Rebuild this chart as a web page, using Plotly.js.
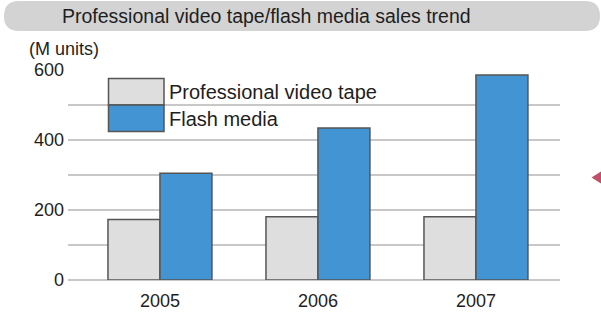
<!DOCTYPE html>
<html>
<head>
<meta charset="utf-8">
<script src="https://cdn.plot.ly/plotly-3.0.1.min.js"></script>
<style>
  html, body { margin: 0; padding: 0; background: #ffffff; }
  #chart { width: 601px; height: 312px; }
</style>
</head>
<body>
<div id="chart"></div>
<script>
const categories = ['2005', '2006', '2007'];
const tapeValues = [173, 181, 181];
const flashValues = [305, 434, 586];
const seriesNames = ['Professional video tape', 'Flash media'];
const yTickVals = [0, 200, 400, 600];
const chartTitle = 'Professional video tape/flash media sales trend';
const unitLabel = '(M units)';

const W = 601, H = 312;
const M = {l: 68, r: 41, t: 70, b: 32};
const PW = W - M.l - M.r, PH = H - M.t - M.b;
const px = x => (x - M.l) / PW;
const py = y => (H - M.b - y) / PH;

const FONT = 'Liberation Sans, Arial, Helvetica, sans-serif';
const TXT = '#1e1e1e';
const tapeColor = '#dedede';
const flashColor = '#4394d3';
const edge = {color: '#555555', width: 1.5};

const traces = [
  {type: 'bar', name: seriesNames[0], x: categories, y: tapeValues,
   marker: {color: tapeColor, line: edge}, showlegend: false, hoverinfo: 'skip'},
  {type: 'bar', name: seriesNames[1], x: categories, y: flashValues,
   marker: {color: flashColor, line: edge}, showlegend: false, hoverinfo: 'skip'}
];

// rounded title band
const bx0 = 4, bx1 = 600, by0 = 1, by1 = 31, r = 15;
const bandPath = [
  'M', px(bx0 + r), py(by0),
  'L', px(bx1 - r), py(by0),
  'Q', px(bx1), py(by0), px(bx1), py(by0 + r),
  'L', px(bx1), py(by1 - r),
  'Q', px(bx1), py(by1), px(bx1 - r), py(by1),
  'L', px(bx0 + r), py(by1),
  'Q', px(bx0), py(by1), px(bx0), py(by1 - r),
  'L', px(bx0), py(by0 + r),
  'Q', px(bx0), py(by0), px(bx0 + r), py(by0), 'Z'
].join(' ').replace(/ ([\d.-]+) ([\d.-]+)/g, ' $1,$2');

const shapes = [
  {type: 'path', xref: 'paper', yref: 'paper', path: bandPath,
   fillcolor: '#d3d3d3', line: {width: 0}, layer: 'below'},
  // legend swatches
  {type: 'rect', xref: 'paper', yref: 'paper', x0: px(108.5), x1: px(164), y0: py(78.5), y1: py(105),
   fillcolor: tapeColor, line: edge},
  {type: 'rect', xref: 'paper', yref: 'paper', x0: px(108.5), x1: px(164), y0: py(105), y1: py(131.5),
   fillcolor: flashColor, line: edge},
  // decorative pointer
  {type: 'path', xref: 'paper', yref: 'paper',
   path: 'M ' + px(591.5) + ',' + py(177.5) + ' L ' + px(601) + ',' + py(171.5) + ' L ' + px(601) + ',' + py(183.5) + ' Z',
   fillcolor: '#c0506a', line: {width: 0}}
];

const annotations = [
  {xref: 'paper', yref: 'paper', x: px(266), y: py(16), text: chartTitle, showarrow: false,
   xanchor: 'center', yanchor: 'middle', font: {family: FONT, size: 19.5, color: TXT}},
  {xref: 'paper', yref: 'paper', x: px(27), y: py(49), text: unitLabel, showarrow: false,
   xanchor: 'left', yanchor: 'middle', font: {family: FONT, size: 18, color: TXT}},
  {xref: 'paper', yref: 'paper', x: px(167), y: py(92.5), text: seriesNames[0], showarrow: false,
   xanchor: 'left', yanchor: 'middle', font: {family: FONT, size: 20, color: TXT}},
  {xref: 'paper', yref: 'paper', x: px(167), y: py(119), text: seriesNames[1], showarrow: false,
   xanchor: 'left', yanchor: 'middle', font: {family: FONT, size: 20, color: TXT}}
];

const layout = {
  width: W, height: H,
  margin: M,
  paper_bgcolor: '#ffffff', plot_bgcolor: '#ffffff',
  barmode: 'group', bargap: 0.342, bargroupgap: 0,
  showlegend: false,
  xaxis: {type: 'category', range: [-0.582, 2.532], showgrid: false, zeroline: false,
    showline: false, ticks: '', ticklabelstandoff: 8,
    tickfont: {family: FONT, size: 18, color: TXT}},
  yaxis: {range: [0, 600], tickvals: yTickVals, showgrid: true, gridcolor: '#c8c8c8', gridwidth: 1.5,
    zeroline: true, zerolinecolor: '#c8c8c8', zerolinewidth: 1.5, showline: false, ticks: '',
    ticklabelstandoff: 3,
    minor: {dtick: 100, showgrid: true, gridcolor: '#c8c8c8', gridwidth: 1.5},
    tickfont: {family: FONT, size: 18, color: TXT}},
  shapes: shapes,
  annotations: annotations
};

Plotly.newPlot('chart', traces, layout, {displayModeBar: false, staticPlot: true});
</script>
</body>
</html>
